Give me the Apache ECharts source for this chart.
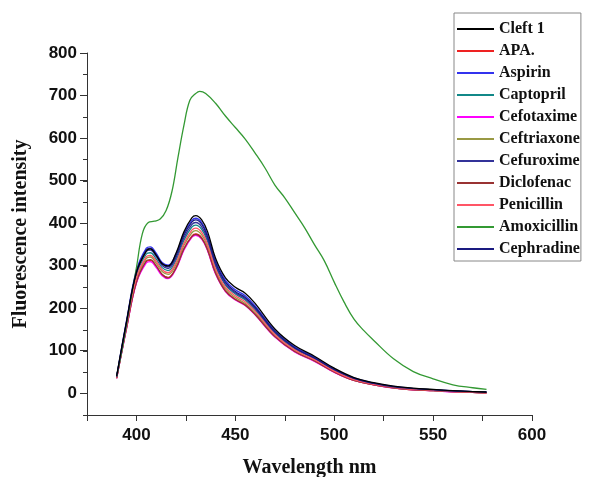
<!DOCTYPE html>
<html><head><meta charset="utf-8">
<script src="https://cdn.jsdelivr.net/npm/echarts@6/dist/echarts.min.js"></script>
<style>html,body{margin:0;padding:0;background:#fff}#c{width:590px;height:477px}</style>
</head><body><div id="c"></div>
<script>
// Wavelengths (nm) for the nine-curve family
const wl = [390,395,400,405,407,410,413,416,420,424,428,430,433,436,440,445,450,455,460,470,480,490,500,510,520,530,540,550,560,570,577];
const cleft1      = [42,170,285,335,340,325,305,300,330,380,413,418,408,380,318,272,250,236,212,152,113,88,60,38,26,18,13,10,7,5,4];
const apa         = [37,155,262,310,313,299,280,273,296,340,370,375,366,338,284,242,222,209,187,134,99,77,51,31,21,14,9,7,5,3,2];
const aspirin     = [40,172,290,342,345,330,308,302,328,376,407,412,402,372,312,266,244,230,206,148,110,86,58,37,25,17,12,9,7,5,4];
const captopril   = [39,164,278,328,331,316,296,289,313,360,391,396,386,357,299,255,234,220,197,142,105,82,55,34,23,15,11,8,6,4,3];
const cefotaxime  = [36,153,260,307,310,296,277,270,293,337,367,372,363,335,281,240,220,207,185,133,98,76,50,31,21,13,9,7,4,3,2];
const ceftriaxone = [38,158,268,318,321,306,287,280,303,348,378,383,373,345,289,246,226,212,190,137,101,78,52,32,22,14,10,7,5,3,2];
const cefuroxime  = [39,166,282,334,337,322,301,294,319,366,397,402,392,362,303,258,237,223,200,144,107,83,56,35,24,16,11,9,6,4,3];
const diclofenac  = [36,154,262,312,315,300,280,272,295,340,369,374,365,337,283,241,221,208,186,134,99,77,51,31,21,14,9,7,5,3,2];
const penicillin  = [38,160,272,322,325,311,291,284,308,353,384,389,379,350,293,250,230,216,194,139,103,80,53,33,22,15,10,8,5,4,2];
const cephradine  = [40,168,286,338,341,326,305,298,324,372,403,408,398,368,308,262,240,226,203,146,108,84,57,36,24,16,12,9,6,5,3];
// Amoxicillin has its own sampling
const wlAmox = [390,393,396,400,403,406,409,412,415,418,421,424,427,430,432,435,440,445,450,455,460,465,470,475,480,485,490,495,500,505,510,515,520,530,540,550,560,570,577];
const amoxicillin = [40,110,190,296,376,402,405,410,430,476,555,630,689,705,710,705,682,652,625,598,565,530,490,460,425,390,350,312,262,215,175,148,125,82,52,35,21,14,10];

const names = ['Cleft 1','APA.','Aspirin','Captopril','Cefotaxime','Ceftriaxone','Cefuroxime','Diclofenac','Penicillin','Amoxicillin','Cephradine'];
const colors = ['#000000','#ee2222','#3333ee','#118888','#ff00ff','#999944','#333399','#993333','#ff5566','#339933','#1a1a80'];
const yTicks = [0,100,200,300,400,500,600,700,800];
const xTicks = [400,450,500,550,600];

const curves = [
  [wl,cleft1],[wl,apa],[wl,aspirin],[wl,captopril],[wl,cefotaxime],[wl,ceftriaxone],
  [wl,cefuroxime],[wl,diclofenac],[wl,penicillin],[wlAmox,amoxicillin],[wl,cephradine]
];

const serif = '"Liberation Serif","Times New Roman",serif';
const sans = '"Liberation Sans",Arial,sans-serif';

const chart = echarts.init(document.getElementById('c'), null, {renderer:'canvas'});
chart.setOption({
  animation:false,
  backgroundColor:'#fff',
  grid:[
    {left:87, right:58, top:53, bottom:62, containLabel:false, outerBoundsMode:'none'},
    {left:87, right:58, top:53, bottom:84, containLabel:false, outerBoundsMode:'none'}
  ],
  xAxis:[{
    type:'value', gridIndex:0, min:375, max:600, interval:25,
    axisLine:{show:true,onZero:false,lineStyle:{color:'#333',width:1}},
    axisTick:{show:true,inside:false,length:6,lineStyle:{color:'#333'}},
    axisLabel:{color:'#111',fontFamily:sans,fontWeight:'bold',fontSize:17,margin:12,
      formatter:v=> xTicks.indexOf(v)>=0 ? String(v) : ''},
    splitLine:{show:false},
    name:'Wavelength nm', nameLocation:'middle', nameGap:43,
    nameTextStyle:{fontFamily:serif,fontWeight:'bold',fontSize:20,color:'#111'}
  },{
    type:'value', gridIndex:1, min:375, max:600, show:false
  }],
  yAxis:[{
    type:'value', gridIndex:0, min:-50, max:800, interval:50,
    axisLine:{show:true,onZero:false,lineStyle:{color:'#333',width:1}},
    axisTick:{show:true,length:4,lineStyle:{color:'#333'}},
    axisLabel:{show:false},
    splitLine:{show:false},
    name:'Fluorescence intensity', nameLocation:'middle', nameGap:56, nameRotate:90,
    nameTextStyle:{fontFamily:serif,fontWeight:'bold',fontSize:20,color:'#111'}
  },{
    type:'value', gridIndex:1, min:0, max:800, interval:100,
    axisLine:{show:false,onZero:false},
    axisTick:{show:true,length:7,lineStyle:{color:'#333'}},
    axisLabel:{color:'#111',fontFamily:sans,fontWeight:'bold',fontSize:17,margin:10},
    splitLine:{show:false}
  }],
  legend:{
    orient:'vertical', left:454, top:13,
    padding:[8,1,4,3],
    itemGap:6, itemWidth:37, itemHeight:2, icon:'rect',
    borderColor:'#888', borderWidth:1,
    textStyle:{fontFamily:serif,fontWeight:'bold',fontSize:16,color:'#111'},
    data:names
  },
  series: curves.map((c,i)=>({
    name:names[i], type:'line', xAxisIndex:0, yAxisIndex:0,
    smooth:0.4, showSymbol:false, symbol:'none',
    lineStyle:{width:1.3,color:colors[i]}, itemStyle:{color:colors[i]},
    z: i===0 ? 5 : 2,
    data:c[0].map((x,k)=>[x,c[1][k]])
  }))
});
</script></body></html>
